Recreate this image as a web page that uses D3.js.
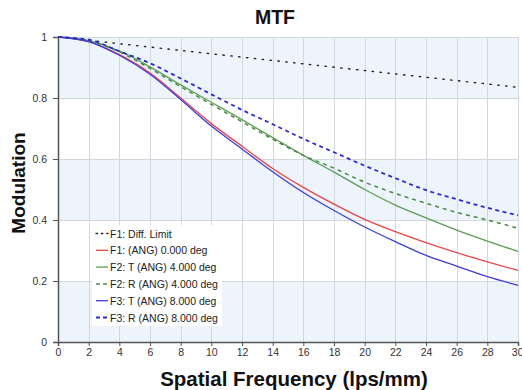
<!DOCTYPE html>
<html><head><meta charset="utf-8">
<script src="https://cdn.jsdelivr.net/npm/d3@7"></script>
<style>
html,body{margin:0;padding:0;background:#fff;}
svg{display:block;font-family:"Liberation Sans",Arial,sans-serif;}
</style></head>
<body><svg id="chart" width="522" height="390"></svg>
<script>
const freq = [0,2,4,6,8,10,12,14,16,18,20,22,24,26,28,30];
const diffLimit = [1,0.989,0.978,0.967,0.956,0.945,0.934,0.923,0.912,0.901,0.890,0.879,0.868,0.857,0.846,0.835];
const f1Axis = [1,0.985,0.942,0.882,0.800,0.716,0.642,0.569,0.507,0.452,0.402,0.362,0.326,0.293,0.263,0.235];
const f2Tan = [1,0.988,0.955,0.902,0.843,0.786,0.729,0.670,0.612,0.557,0.500,0.449,0.407,0.367,0.331,0.297];
const f2Rad = [1,0.987,0.951,0.897,0.837,0.779,0.722,0.665,0.612,0.570,0.524,0.487,0.455,0.425,0.400,0.373];
const f3Tan = [1,0.985,0.940,0.878,0.795,0.708,0.633,0.558,0.490,0.431,0.377,0.329,0.284,0.249,0.214,0.186];
const f3Rad = [1,0.991,0.953,0.914,0.864,0.812,0.761,0.714,0.666,0.622,0.578,0.537,0.498,0.468,0.440,0.415];
const seriesNames = ["F1: Diff. Limit","F1: (ANG) 0.000 deg","F2: T (ANG) 4.000 deg","F2: R (ANG) 4.000 deg","F3: T (ANG) 8.000 deg","F3: R (ANG) 8.000 deg"];
const xTicks = [0,2,4,6,8,10,12,14,16,18,20,22,24,26,28,30];
const yTicks = [0,0.2,0.4,0.6,0.8,1];

const series = [
  {name:seriesNames[0], values:diffLimit, color:"#222", width:1.4, dash:"1.4,6.5", cap:"round"},
  {name:seriesNames[1], values:f1Axis, color:"#e8454a", width:1.3, dash:null},
  {name:seriesNames[2], values:f2Tan, color:"#5c9e55", width:1.3, dash:null},
  {name:seriesNames[3], values:f2Rad, color:"#4a8644", width:1.5, dash:"4,4"},
  {name:seriesNames[4], values:f3Tan, color:"#3d3dd6", width:1.3, dash:null},
  {name:seriesNames[5], values:f3Rad, color:"#2a2ad0", width:1.8, dash:"4,3.5"}
];

const svg = d3.select("#chart");
const W = 522, H = 390;
const m = {left:58, right:4, top:37, bottom:48};
const x = d3.scaleLinear().domain([0,30]).range([m.left, W-m.right]);
const y = d3.scaleLinear().domain([0,1]).range([H-m.bottom, m.top]);

// background bands
const bands = [[0,0.2],[0.4,0.6],[0.8,1]];
svg.append("g").selectAll("rect").data(bands).join("rect")
  .attr("x", x(0)).attr("width", x(30)-x(0))
  .attr("y", d=>y(d[1])).attr("height", d=>y(d[0])-y(d[1]))
  .attr("fill", "#edf4fc");

// grid
const grid = svg.append("g").attr("stroke","#d3d8de").attr("stroke-width",1);
grid.selectAll(".vx").data(xTicks.slice(1)).join("line")
  .attr("x1",d=>Math.round(x(d))+0.5).attr("x2",d=>Math.round(x(d))+0.5)
  .attr("y1",y(1)).attr("y2",y(0));
grid.selectAll(".hy").data(yTicks.slice(1)).join("line")
  .attr("x1",x(0)).attr("x2",x(30))
  .attr("y1",d=>Math.round(y(d))+0.5).attr("y2",d=>Math.round(y(d))+0.5);

// lines
svg.append("clipPath").attr("id","clip").append("rect")
  .attr("x",x(0)).attr("y",y(1)-3).attr("width",x(30)-x(0)+2).attr("height",y(0)-y(1)+3);
const line = d3.line().x((d,i)=>x(freq[i])).y(d=>y(d)).curve(d3.curveMonotoneX);
const lg = svg.append("g").attr("clip-path","url(#clip)");
series.forEach(s=>{
  lg.append("path").attr("d", line(s.values)).attr("fill","none")
    .attr("stroke", s.color).attr("stroke-width", s.width)
    .attr("stroke-dasharray", s.dash)
    .attr("stroke-linecap", s.cap||"butt");
});

// axes
const xAxis = d3.axisBottom(x).tickValues(xTicks).tickSize(4).tickPadding(3).tickFormat(d3.format("d"));
const yAxis = d3.axisLeft(y).tickValues(yTicks).tickSize(5).tickPadding(6).tickFormat(d=>d===0||d===1?d3.format("d")(d):d3.format(".1f")(d));
const gx = svg.append("g").attr("transform",`translate(0,${y(0)})`).call(xAxis);
const gy = svg.append("g").attr("transform",`translate(${x(0)},0)`).call(yAxis);
[gx,gy].forEach(g=>{
  g.select(".domain").attr("stroke","#555").attr("stroke-width",1.5);
  g.selectAll(".tick line").attr("stroke","#555");
  g.selectAll(".tick text").attr("fill","#333").style("font-size","10.5px").style("font-family","'Liberation Sans',Arial,sans-serif");
});
gx.selectAll(".tick text").filter(d=>d===30).attr("text-anchor","end").attr("dx","5");

// legend
const leg = svg.append("g");
const lx = 92, ly = 225, rowH = 16.8;
leg.append("rect").attr("x",lx).attr("y",ly).attr("width",130).attr("height",101).attr("fill","#fff");
series.forEach((s,i)=>{
  const cy = ly + 8.5 + i*rowH;
  leg.append("line").attr("x1",lx+4).attr("x2",lx+16).attr("y1",cy).attr("y2",cy)
    .attr("stroke",s.color).attr("stroke-width",s.width)
    .attr("stroke-dasharray", s.dash ? (i===0?"1.4,4":"4,3") : null)
    .attr("stroke-linecap", s.cap||"butt");
  leg.append("text").attr("x",lx+18).attr("y",cy+4).text(s.name)
    .style("font-size","10.5px").attr("fill","#222");
});

// titles
svg.append("text").attr("x",275).attr("y",24).attr("text-anchor","middle")
  .style("font-size","19.5px").style("font-weight","bold").attr("fill","#111").text("MTF");
svg.append("text").attr("x",294).attr("y",386).attr("text-anchor","middle")
  .style("font-size","20.5px").style("font-weight","bold").attr("fill","#111").text("Spatial Frequency (lps/mm)");
svg.append("text").attr("transform",`translate(25,183) rotate(-90)`).attr("text-anchor","middle")
  .style("font-size","19px").style("font-weight","bold").attr("fill","#111").text("Modulation");
</script></body></html>
